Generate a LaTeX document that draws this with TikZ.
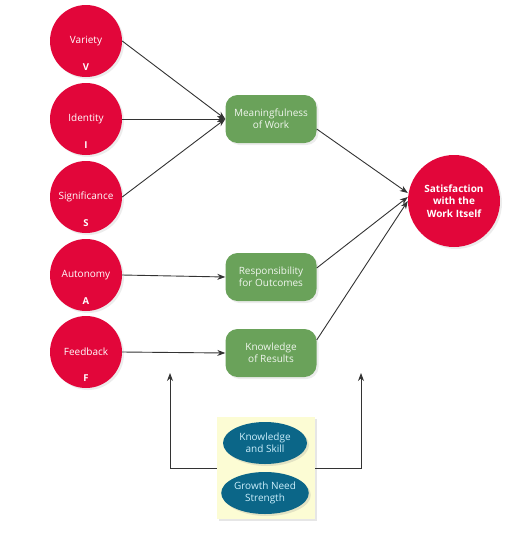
\documentclass[tikz,border=0pt]{standalone}
\usepackage{fontspec}
\setmainfont{Open Sans}
\usetikzlibrary{arrows.meta, positioning, shapes.geometric, shadows}

\definecolor{jobred}{HTML}{E2063A}
\definecolor{jobgreen}{HTML}{6AA25A}
\definecolor{jobblue}{HTML}{0B6688}
\definecolor{jobyellow}{HTML}{FCFCD4}
\definecolor{jobline}{HTML}{333333}

\begin{document}
\begin{tikzpicture}[
                x=1pt, y=-1pt,
                >={Stealth[length=8pt, width=6pt]},
                every node/.style={font=\fontsize{10}{12}\selectfont, align=center},
                core/.style={circle, fill=jobred, text=white, minimum size=72pt, inner sep=0pt,
                             drop shadow={opacity=0.15, shadow xshift=2pt, shadow yshift=-2pt}},
                letter/.style={text=white, font=\fontsize{9.5}{11}\selectfont\bfseries},
                state/.style={rounded corners=12pt, fill=jobgreen, text=white!90!jobgreen,
                              minimum width=91pt, minimum height=48pt, inner sep=2pt,
                              drop shadow={opacity=0.15, shadow xshift=2pt, shadow yshift=-2pt}},
                outcome/.style={circle, fill=jobred, text=white, minimum size=92pt, inner sep=0pt,
                                font=\fontsize{10}{12.5}\selectfont\bfseries,
                                drop shadow={opacity=0.15, shadow xshift=2pt, shadow yshift=-2pt}},
                moderator/.style={ellipse, fill=jobblue, text=white!80!cyan, minimum width=84pt,
                                  minimum height=42pt, inner sep=0pt,
                                  drop shadow={opacity=0.2, shadow xshift=2pt, shadow yshift=-2pt}},
                link/.style={->, draw=jobline, line width=0.9pt}
            ]
            \useasboundingbox (0,0) rectangle (531,539);
            % core job dimensions
            \node[core] (V) at (86,41) {Variety};
            \node[core] (I) at (86,119) {Identity};
            \node[core] (S) at (86,197) {Significance};
            \node[core] (A) at (86,275) {Autonomy};
            \node[core] (F) at (86,352) {Feedback};
            \node[letter] (Vl) at (86,67) {V};
            \node[letter] (Il) at (86,145) {I};
            \node[letter] (Sl) at (86,223) {S};
            \node[letter] (Al) at (86,301) {A};
            \node[letter] (Fl) at (86,378) {F};
            % critical psychological states
            \node[state] (M) at (271,119) {Meaningfulness\\of Work};
            \node[state] (R) at (271,277) {Responsibility\\for Outcomes};
            \node[state] (K) at (271,353) {Knowledge\\of Results};
            % outcome
            \node[outcome] (W) at (454,201) {Satisfaction\\with the\\Work Itself};
            % moderators
            \node[fill=jobyellow, minimum width=98pt, minimum height=102pt,
                  drop shadow={opacity=0.2, shadow xshift=2pt, shadow yshift=-2pt}] (Y) at (266,468) {};
            \node[moderator] (KS) at (265,443) {Knowledge\\and Skill};
            \node[moderator] (G) at (265,493) {Growth Need\\Strength};
            \coordinate (ml) at (170,373);
            \coordinate (mr) at (361,373);

            \draw[link] (V.east) -- (M.west);
            \draw[link] (I.east) -- (M.west);
            \draw[link] (S.east) -- (M.west);
            \draw[link] (A.east) -- (R.west);
            \draw[link] (F.east) -- (K.west);
            \draw[link] (M.east |- 0,129) -- (W.west |- 0,193);
            \draw[link] (R.east |- 0,268) -- (W.west |- 0,197);
            \draw[link] (K.east |- 0,340) -- (W.west |- 0,201);
            \draw[link] (Y.west |- 0,468) -| (ml);
            \draw[link] (Y.east |- 0,468) -| (mr);
        \end{tikzpicture}
\end{document}
